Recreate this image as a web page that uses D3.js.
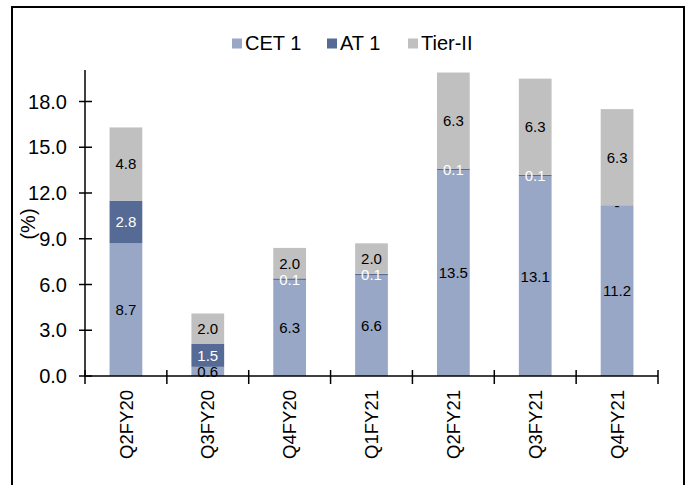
<!DOCTYPE html>
<html>
<head>
<meta charset="utf-8">
<script src="https://cdn.jsdelivr.net/npm/d3@7"></script>
<style>
  html, body { margin: 0; padding: 0; background: #fff; }
  svg { display: block; font-family: Arial, "Liberation Sans", sans-serif; }
</style>
</head>
<body>
<svg id="chart" width="692" height="485"></svg>
<script>
// Capital adequacy components by quarter (%)
const quarters = ["Q2FY20", "Q3FY20", "Q4FY20", "Q1FY21", "Q2FY21", "Q3FY21", "Q4FY21"];
const cet1 = [8.7, 0.6, 6.3, 6.6, 13.5, 13.1, 11.2];
const at1 = [2.8, 1.5, 0.1, 0.1, 0.1, 0.1, 0.0];
const tier2 = [4.8, 2.0, 2.0, 2.0, 6.3, 6.3, 6.3];
const yTicks = [0, 3, 6, 9, 12, 15, 18];
const seriesNames = ["CET 1", "AT 1", "Tier-II"];

const colors = { "CET 1": "#97a7c5", "AT 1": "#556a95", "Tier-II": "#c0c0c0" };
const labelColors = { "CET 1": "#000", "AT 1": "#fff", "Tier-II": "#000" };

const rows = quarters.map((q, i) => ({
  quarter: q, "CET 1": cet1[i], "AT 1": at1[i], "Tier-II": tier2[i]
}));

const svg = d3.select("#chart");

// outer frame
svg.append("rect")
  .attr("x", 12).attr("y", 7)
  .attr("width", 672).attr("height", 500)
  .attr("fill", "none").attr("stroke", "#000").attr("stroke-width", 2);

const x = d3.scaleBand()
  .domain(quarters)
  .range([85, 658])
  .paddingInner(0.6)
  .paddingOuter(0.3);

const y = d3.scaleLinear().domain([0, 20]).range([376, 71]);

const stack = d3.stack().keys(seriesNames);
const layers = stack(rows);

// bars
const layerG = svg.append("g").selectAll("g")
  .data(layers)
  .join("g")
  .attr("fill", d => colors[d.key]);

layerG.selectAll("rect")
  .data(d => d)
  .join("rect")
  .attr("x", d => x(d.data.quarter))
  .attr("width", x.bandwidth())
  .attr("y", d => y(d[1]))
  .attr("height", d => y(d[0]) - y(d[1]));

// value labels
const labelG = svg.append("g")
  .attr("font-size", 15)
  .attr("text-anchor", "middle");

layers.forEach(layer => {
  labelG.selectAll(null)
    .data(layer)
    .join("text")
    .attr("x", d => x(d.data.quarter) + x.bandwidth() / 2)
    .attr("y", d => y((d[0] + d[1]) / 2))
    .attr("dy", "0.36em")
    .attr("fill", d => (d.data[layer.key] === 0 ? "#000" : labelColors[layer.key]))
    .text(d => (d.data[layer.key] === 0 ? "-" : d3.format(".1f")(d.data[layer.key])));
});

// y axis
const yAxis = svg.append("g");
yAxis.append("line")
  .attr("x1", 85).attr("x2", 85)
  .attr("y1", 70).attr("y2", 377)
  .attr("stroke", "#000").attr("stroke-width", 1.5);
yAxis.selectAll("line.tick")
  .data(yTicks)
  .join("line")
  .attr("class", "tick")
  .attr("x1", 79).attr("x2", 92)
  .attr("y1", d => y(d)).attr("y2", d => y(d))
  .attr("stroke", "#000").attr("stroke-width", 1.5);
yAxis.selectAll("text")
  .data(yTicks)
  .join("text")
  .attr("x", 67)
  .attr("y", d => y(d))
  .attr("dy", "0.36em")
  .attr("text-anchor", "end")
  .attr("font-size", 20)
  .attr("fill", "#000")
  .text(d => d3.format(".1f")(d));

// x axis
const xAxis = svg.append("g");
xAxis.append("line")
  .attr("x1", 85).attr("x2", 658)
  .attr("y1", y(0)).attr("y2", y(0))
  .attr("stroke", "#000").attr("stroke-width", 1.5);
const boundaries = d3.range(quarters.length + 1).map(i => x.range()[0] + i * x.step());
xAxis.selectAll("line.tick")
  .data(boundaries)
  .join("line")
  .attr("class", "tick")
  .attr("x1", d => d).attr("x2", d => d)
  .attr("y1", y(0) - 6).attr("y2", y(0) + 8)
  .attr("stroke", "#000").attr("stroke-width", 1.5);
xAxis.selectAll("text")
  .data(quarters)
  .join("text")
  .attr("transform", d => `translate(${x(d) + x.bandwidth() / 2},390) rotate(-90)`)
  .attr("dy", "0.36em")
  .attr("text-anchor", "end")
  .attr("font-size", 18.5)
  .attr("fill", "#000")
  .text(d => d);

// y axis title
svg.append("text")
  .attr("transform", "translate(28,224) rotate(-90)")
  .attr("dy", "0.36em")
  .attr("text-anchor", "middle")
  .attr("font-size", 20)
  .text("(%)");

// legend
const legend = svg.append("g");
const legendX = [232, 327, 408];
seriesNames.forEach((name, i) => {
  const g = legend.append("g").attr("transform", `translate(${legendX[i]},0)`);
  g.append("rect")
    .attr("x", 0).attr("y", 38.5)
    .attr("width", 10).attr("height", 10)
    .attr("fill", colors[name]);
  g.append("text")
    .attr("x", 13).attr("y", 50)
    .attr("font-size", 20)
    .attr("fill", "#000")
    .text(name);
});
</script>
</body>
</html>
